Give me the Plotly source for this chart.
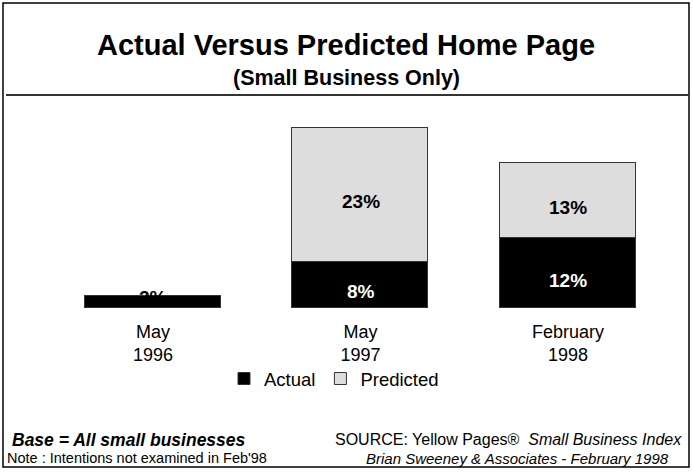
import plotly.graph_objects as go

# Survey periods and shares of small businesses with a home page (%)
periods = ["May<br>1996", "May<br>1997", "February<br>1998"]
actual = [2, 8, 12]
predicted = [0, 23, 13]
actual_labels = ["2%", "8%", "12%"]
predicted_labels = ["", "23%", "13%"]

W, H = 693, 473
FONT = "Liberation Sans, Arial, sans-serif"


def px_x(v):
    return v / W


def px_y(v):
    return 1 - v / H


fig = go.Figure()
fig.add_trace(go.Bar(
    x=periods, y=actual, name="Actual",
    marker=dict(color="#000000", line=dict(color="#333333", width=1)),
    width=0.655, hoverinfo="skip",
))
fig.add_trace(go.Bar(
    x=periods, y=predicted, name="Predicted",
    marker=dict(color="#DDDDDD", line=dict(color="#333333", width=1)),
    width=0.655, hoverinfo="skip",
))

# Value labels in each segment
ann = []
for i, p in enumerate(periods):
    if actual_labels[i]:
        small = actual[i] < 4
        ann.append(dict(
            x=p, y=actual[i] / 2, xref="x", yref="y",
            text="<b>" + actual_labels[i] + "</b>",
            showarrow=False, yshift=5 if small else -7,
            font=dict(family=FONT, size=19, color="#000000" if small else "#FFFFFF"),
        ))
    if predicted_labels[i]:
        ann.append(dict(
            x=p, y=actual[i] + predicted[i] / 2, xref="x", yref="y",
            text="<b>" + predicted_labels[i] + "</b>",
            showarrow=False, yshift=-7,
            font=dict(family=FONT, size=19, color="#000000"),
        ))


def text_at(x, y, text, size, anchor="center"):
    ann.append(dict(x=px_x(x), y=px_y(y), xref="paper", yref="paper",
                    showarrow=False, xanchor=anchor, yanchor="middle",
                    text=text, font=dict(family=FONT, size=size, color="#000000")))


# Titles
text_at(346, 45, "<b>Actual Versus Predicted Home Page</b>", 29)
text_at(346, 78, "<b>(Small Business Only)</b>", 21.5)

# Footer
text_at(10, 440, "<b><i>Base = All small businesses</i></b>", 17.5, "left")
text_at(5, 458, "Note : Intentions not examined in Feb'98", 14.5, "left")
text_at(684, 439, "SOURCE: Yellow Pages®  <i>Small Business Index</i>", 16, "right")
text_at(671, 458, "<i>Brian Sweeney &amp; Associates - February 1998</i>", 15, "right")

shapes = [
    # outer frame
    dict(type="rect", xref="paper", yref="paper", x0=px_x(3), x1=px_x(689),
         y0=px_y(467), y1=px_y(3), line=dict(color="#000000", width=1.5)),
    # rule under the title block
    dict(type="line", xref="paper", yref="paper", x0=px_x(6), x1=px_x(689),
         y0=px_y(95), y1=px_y(95), line=dict(color="#333333", width=2)),
]

# axis geometry: baseline at y=308px, 1% = 5.8px; category spacing 207.5px
y_top_px = 308 - 40 * 5.8
x_left_px = 153 - 207.5 / 2
x_right_px = 568 + 207.5 / 2

fig.update_layout(
    width=W, height=H,
    margin=dict(l=0, r=0, t=0, b=0),
    paper_bgcolor="#FFFFFF", plot_bgcolor="#FFFFFF",
    barmode="stack", bargap=0,
    font=dict(family=FONT, size=18, color="#000000"),
    xaxis=dict(domain=[px_x(x_left_px), px_x(x_right_px)], range=[-0.5, 2.5],
               showline=False, showgrid=False, zeroline=False, ticks="",
               tickfont=dict(family=FONT, size=18, color="#000000"),
               ticklabelstandoff=11, fixedrange=True),
    yaxis=dict(domain=[px_y(308), px_y(y_top_px)], range=[0, 40],
               visible=False, fixedrange=True),
    legend=dict(orientation="h", x=px_x(224), y=px_y(379), xanchor="left", yanchor="middle",
                font=dict(family=FONT, size=18.5, color="#000000"),
                itemwidth=30, tracegroupgap=0, bgcolor="rgba(0,0,0,0)",
                traceorder="normal"),
    annotations=ann,
    shapes=shapes,
    showlegend=True,
)

fig.write_html("out.html", config={"displayModeBar": False})
